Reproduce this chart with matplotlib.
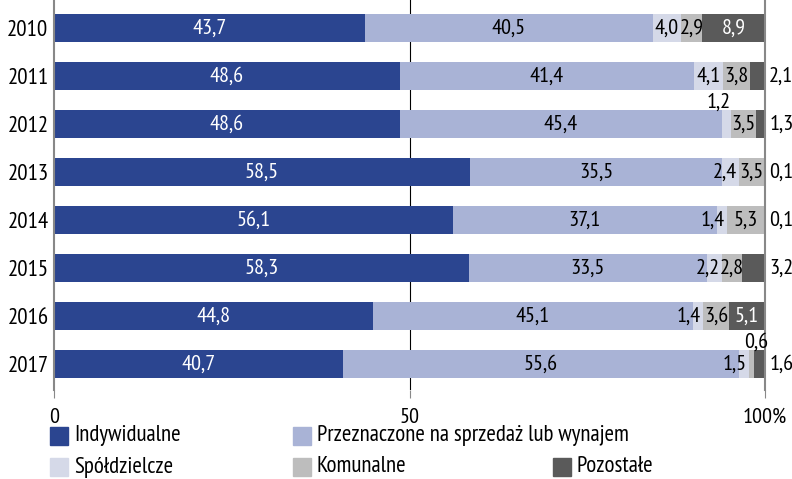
import matplotlib.pyplot as plt
from matplotlib.patches import Rectangle

plt.rcParams['font.family'] = ['PT Sans Narrow', 'DejaVu Sans']

years = ['2010', '2011', '2012', '2013', '2014', '2015', '2016', '2017']
indywidualne = [43.7, 48.6, 48.6, 58.5, 56.1, 58.3, 44.8, 40.7]
przeznaczone = [40.5, 41.4, 45.4, 35.5, 37.1, 33.5, 45.1, 55.6]
spoldzielcze = [4.0, 4.1, 1.2, 2.4, 1.4, 2.2, 1.4, 1.5]
komunalne = [2.9, 3.8, 3.5, 3.5, 5.3, 2.8, 3.6, 0.6]
pozostale = [8.9, 2.1, 1.3, 0.1, 0.1, 3.2, 5.1, 1.6]

series = [indywidualne, przeznaczone, spoldzielcze, komunalne, pozostale]
names = ['Indywidualne', 'Przeznaczone na sprzedaż lub wynajem',
         'Spółdzielcze', 'Komunalne', 'Pozostałe']
colors = ['#2b4590', '#a9b3d6', '#d5d9e8', '#bdbdbd', '#5a5a5a']
text_colors = ['white', 'black', 'black', 'black', 'white']

fig = plt.figure(figsize=(7.92, 4.79), dpi=100)
ax = fig.add_axes([54 / 792, 1 - 390 / 479, (765 - 54) / 792, 390 / 479])

ax.axvline(50, color='black', lw=0.8, zorder=0)

fs = 16
left = [0.0] * len(years)
for s, vals in enumerate(series):
    ax.barh(range(len(years)), vals, left=left, height=0.57,
            color=colors[s], zorder=2)
    for i, v in enumerate(vals):
        lab = f'{v:.1f}'.replace('.', ',')
        x = left[i] + v / 2
        y = i
        ha = 'center'
        col = text_colors[s]
        if s == 4 and v < 4:
            # small remainder goes to the right of the bar
            x = 100.6
            ha = 'left'
            col = 'black'
        elif s >= 2 and v < 1.3:
            # tiny segment, label above the bar
            y = i - 0.45
            ha = 'right'
            x = left[i] + v + (2.1 if s == 3 else 0.0)
        elif s == 2 and v < 3:
            x = left[i] + v - 0.3
            ha = 'right'
        ax.text(x, y, lab, ha=ha, va='center', color=col, fontsize=fs,
                zorder=3)
        left[i] += v

ax.set_xlim(0, 100)
ax.set_ylim(7.54, -0.58)
ax.set_yticks(range(len(years)))
ax.set_yticklabels(years, fontsize=16.5)
ax.tick_params(axis='y', length=0, pad=4)
ax.set_xticks([0, 50, 100])
ax.set_xticklabels(['0', '50', '100%'], fontsize=16)
ax.tick_params(axis='x', length=6, color='#888888', pad=7)
for side in ['top', 'bottom']:
    ax.spines[side].set_visible(False)
for side in ['left', 'right']:
    ax.spines[side].set_color('#888888')
    ax.spines[side].set_linewidth(1.5)

# legend grid: two rows
leg_pos = [(50, 436), (293, 436), (50, 467), (293, 467), (553, 467)]
for (px, py), name, c in zip(leg_pos, names, colors):
    fig.add_artist(Rectangle((px / 792, 1 - (py + 9) / 479), 18 / 792, 18 / 479,
                             color=c, transform=fig.transFigure))
    fig.text((px + 24) / 792, 1 - py / 479, name, va='center', ha='left',
             fontsize=16.5)

fig.savefig('out.png', dpi=100)
